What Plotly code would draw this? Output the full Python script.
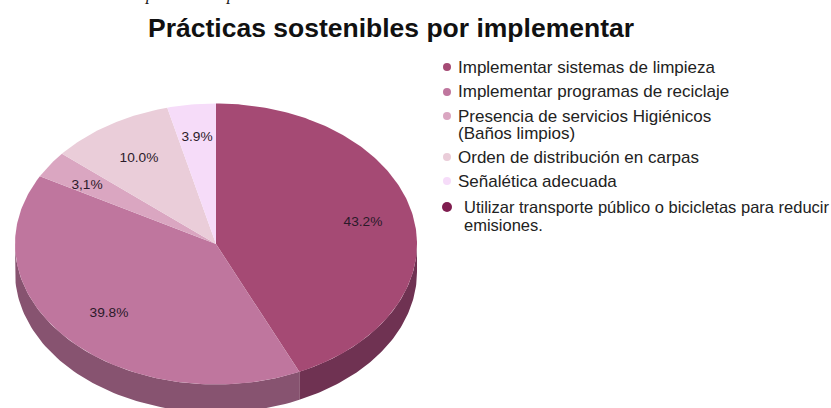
import numpy as np
import plotly.graph_objects as go

title = "Prácticas sostenibles por implementar"
categories = ["Implementar sistemas de limpieza", "Implementar programas de reciclaje",
              "Presencia de servicios Higiénicos<br>(Baños limpios)",
              "Orden de distribución en carpas", "Señalética adecuada",
              "Utilizar transporte público o bicicletas para reducir<br>emisiones."]
values = [43.2, 39.8, 3.1, 10.0, 3.9]
value_labels = ["43.2%", "39.8%", "3,1%", "10.0%", "3.9%"]
colors = ["#a54a74", "#bf769e", "#daa6c1", "#eacdd9", "#f6dcf9", "#7f1d4f"]
side_colors = ["#6f3252", "#875370"]

W, H = 831, 408
CX, CY, RX, RY, DEPTH = 216, 244, 201, 140.5, 28
label_pos = [(363, 223), (109, 314), (87, 186), (139, 159), (197, 138)]
legend_y = [67, 92, 116, 157, 181, 207]
legend_x = [447, 447, 447, 447, 447, 447]
text_x = [456, 456, 456, 456, 456, 462]
text_y = [67, 91, 116, 157, 181, 207]
line_gap = 17.5
marker_size = [8, 8, 8, 8, 8, 10]


def pt(a, dy=0.0):
    return CX + RX * np.sin(a), CY - RY * np.cos(a) + dy


fig = go.Figure()
edges = np.concatenate([[0], np.cumsum(values)]) / sum(values) * 2 * np.pi

# side wall, visible only on the lower half of the ellipse
side_spans = [(np.pi / 2, edges[1]), (edges[1], 3 * np.pi / 2)]
for (a0, a1), col in zip(side_spans, side_colors):
    t = np.linspace(a0, a1, 80)
    x1, y1 = pt(t)
    x2, y2 = pt(t[::-1], DEPTH)
    fig.add_trace(go.Scatter(x=np.r_[x1, x2, x1[0]], y=np.r_[y1, y2, y1[0]], mode="lines",
                             fill="toself", fillcolor=col, line=dict(width=0), hoverinfo="skip"))

# top face
for i, v in enumerate(values):
    t = np.linspace(edges[i], edges[i + 1], max(int(v * 4), 8))
    x, y = pt(t)
    fig.add_trace(go.Scatter(x=np.r_[CX, x, CX], y=np.r_[CY, y, CY], mode="lines", fill="toself",
                             fillcolor=colors[i], line=dict(width=0), name=categories[i],
                             text=value_labels[i], hoverinfo="name+text"))

fig.add_trace(go.Scatter(x=[p[0] for p in label_pos], y=[p[1] for p in label_pos], mode="text",
                         text=value_labels, textposition="middle center", hoverinfo="skip",
                         textfont=dict(family="Liberation Sans", size=13.7, color="#2b1a2a")))

fig.add_trace(go.Scatter(x=legend_x, y=legend_y, mode="markers", hoverinfo="skip",
                         marker=dict(color=colors, size=marker_size, opacity=1, line=dict(width=0))))

annotations = []
for k, (x, y, c) in enumerate(zip(text_x, text_y, categories)):
    size = 16.5 if k == len(categories) - 1 else 17
    for j, part in enumerate(c.split("<br>")):
        annotations.append(dict(x=x, y=y + j * line_gap, text=part, xref="x", yref="y",
                                xanchor="left", yanchor="middle", align="left", showarrow=False,
                                font=dict(family="Liberation Sans", size=size, color="#222222")))
annotations.append(dict(x=391, y=28, text=f"<b>{title}</b>", xref="x", yref="y", showarrow=False,
                        xanchor="center", yanchor="middle",
                        font=dict(family="Liberation Sans", size=26.5, color="#111111")))
for px in (150, 231):
    annotations.append(dict(x=px, y=0, yshift=6, text="<i>p</i>", xref="x", yref="y", showarrow=False,
                            xanchor="center", yanchor="middle",
                            font=dict(family="Liberation Serif", size=17, color="#111111")))

fig.update_layout(width=W, height=H, margin=dict(l=0, r=0, t=0, b=0), showlegend=False,
                  paper_bgcolor="white", plot_bgcolor="white", annotations=annotations,
                  xaxis=dict(range=[0, W], visible=False, fixedrange=True),
                  yaxis=dict(range=[H, 0], visible=False, fixedrange=True))
fig.write_html("out.html", config=dict(displayModeBar=False),
               post_script="document.body.style.margin='0';document.body.style.overflow='hidden';")
